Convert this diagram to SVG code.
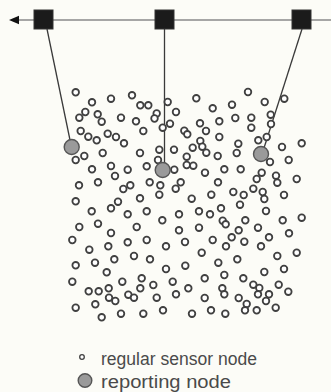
<svg xmlns="http://www.w3.org/2000/svg" width="331" height="392" viewBox="0 0 331 392">
<style>
.bg{fill:#fcfcf7}
.track{stroke:#8a8a8a;stroke-width:1.5;fill:none}
.sink{fill:#1b1b1b;stroke:#333;stroke-width:1}
.link{stroke:#3a3a3a;stroke-width:1.3;fill:none}
.rep{fill:#9a9a9a;stroke:#555;stroke-width:1.4}
.s{fill:#fff;stroke:#404040;stroke-width:1.8}
.lbl{font-family:"Liberation Sans",Arial,sans-serif;font-size:17.5px;fill:#4a4a4a}
</style>
<rect class="bg" width="331" height="392"/>
<g id="connectors">
<line class="track" x1="16" y1="20" x2="331" y2="20"/>
<polygon points="9,20 19,15.8 19,24.2" fill="#111"/>
<line class="link" x1="47" y1="29" x2="70" y2="140"/>
<line class="link" x1="164.5" y1="29" x2="164.5" y2="163"/>
<line class="link" x1="302" y1="29" x2="264" y2="148"/>
</g>
<g id="sink1"><rect class="sink" x="34" y="10" width="19" height="19"/></g>
<g id="sink2"><rect class="sink" x="155" y="10" width="19" height="19"/></g>
<g id="sink3"><rect class="sink" x="292" y="10" width="19" height="19"/></g>
<g id="sensors">
<circle class="s" r="3.3" cx="75.7" cy="92.3"/><circle class="s" r="3.3" cx="92" cy="102.3"/><circle class="s" r="3.3" cx="111" cy="98.7"/><circle class="s" r="3.3" cx="132" cy="95.3"/><circle class="s" r="3.3" cx="140.3" cy="105.3"/><circle class="s" r="3.3" cx="148.3" cy="105.3"/><circle class="s" r="3.3" cx="167.7" cy="102"/><circle class="s" r="3.3" cx="176" cy="112"/><circle class="s" r="3.3" cx="85.3" cy="112"/><circle class="s" r="3.3" cx="79.3" cy="117.7"/><circle class="s" r="3.3" cx="97.7" cy="114.3"/><circle class="s" r="3.3" cx="101.7" cy="121.7"/><circle class="s" r="3.3" cx="121" cy="117.7"/><circle class="s" r="3.3" cx="136" cy="121.3"/><circle class="s" r="3.3" cx="156.7" cy="113.5"/><circle class="s" r="3.3" cx="154.5" cy="118.5"/><circle class="s" r="3.3" cx="170" cy="123.7"/><circle class="s" r="3.3" cx="162.7" cy="127.7"/><circle class="s" r="3.3" cx="80.7" cy="131"/><circle class="s" r="3.3" cx="88.3" cy="136.7"/><circle class="s" r="3.3" cx="96.7" cy="140.3"/><circle class="s" r="3.3" cx="107.7" cy="133.7"/><circle class="s" r="3.3" cx="116" cy="137"/><circle class="s" r="3.3" cx="124" cy="143.3"/><circle class="s" r="3.3" cx="143.3" cy="131"/><circle class="s" r="3.3" cx="184.3" cy="130.7"/><circle class="s" r="3.3" cx="187.3" cy="134.3"/><circle class="s" r="3.3" cx="192.7" cy="147.7"/><circle class="s" r="3.3" cx="102.7" cy="153"/><circle class="s" r="3.3" cx="140" cy="153"/><circle class="s" r="3.3" cx="159.3" cy="149.7"/><circle class="s" r="3.3" cx="174" cy="149.7"/><circle class="s" r="3.3" cx="186.7" cy="156.7"/><circle class="s" r="3.3" cx="84.3" cy="156"/><circle class="s" r="3.3" cx="75.7" cy="160"/><circle class="s" r="3.3" cx="158" cy="160"/>
<circle class="s" r="3.3" cx="196.3" cy="98.3"/><circle class="s" r="3.3" cx="248" cy="92"/><circle class="s" r="3.3" cx="264.7" cy="102"/><circle class="s" r="3.3" cx="284.3" cy="98.7"/><circle class="s" r="3.3" cx="212.7" cy="108.3"/><circle class="s" r="3.3" cx="232" cy="104.7"/><circle class="s" r="3.3" cx="270.7" cy="114.7"/><circle class="s" r="3.3" cx="200" cy="123.3"/><circle class="s" r="3.3" cx="219.3" cy="121.3"/><circle class="s" r="3.3" cx="235.3" cy="118"/><circle class="s" r="3.3" cx="251.3" cy="117.7"/><circle class="s" r="3.3" cx="271" cy="124"/><circle class="s" r="3.3" cx="251.3" cy="127.7"/><circle class="s" r="3.3" cx="206" cy="131"/><circle class="s" r="3.3" cx="219.3" cy="137"/><circle class="s" r="3.3" cx="200.3" cy="141"/><circle class="s" r="3.3" cx="202.3" cy="146.7"/><circle class="s" r="3.3" cx="206.3" cy="152.7"/><circle class="s" r="3.3" cx="217.7" cy="156"/><circle class="s" r="3.3" cx="238.3" cy="143.7"/><circle class="s" r="3.3" cx="236.7" cy="153"/><circle class="s" r="3.3" cx="258.3" cy="140.3"/><circle class="s" r="3.3" cx="266.7" cy="137"/><circle class="s" r="3.3" cx="282" cy="147"/><circle class="s" r="3.3" cx="301.7" cy="143.3"/><circle class="s" r="3.3" cx="288.7" cy="160"/><circle class="s" r="3.3" cx="270" cy="162"/>
<circle class="s" r="3.3" cx="92" cy="169.3"/><circle class="s" r="3.3" cx="111" cy="166"/><circle class="s" r="3.3" cx="115" cy="176"/><circle class="s" r="3.3" cx="127.7" cy="169.7"/><circle class="s" r="3.3" cx="146.7" cy="166.3"/><circle class="s" r="3.3" cx="174.3" cy="169.7"/><circle class="s" r="3.3" cx="186.7" cy="165"/><circle class="s" r="3.3" cx="79" cy="185.3"/><circle class="s" r="3.3" cx="98" cy="182.3"/><circle class="s" r="3.3" cx="123.3" cy="189"/><circle class="s" r="3.3" cx="130.3" cy="185.3"/><circle class="s" r="3.3" cx="149.7" cy="182.3"/><circle class="s" r="3.3" cx="160.3" cy="185.3"/><circle class="s" r="3.3" cx="175.7" cy="188.7"/><circle class="s" r="3.3" cx="180.7" cy="182.3"/><circle class="s" r="3.3" cx="159.3" cy="194.7"/><circle class="s" r="3.3" cx="75.7" cy="201.3"/><circle class="s" r="3.3" cx="118" cy="201.7"/><circle class="s" r="3.3" cx="140" cy="198.3"/><circle class="s" r="3.3" cx="191.7" cy="198.7"/><circle class="s" r="3.3" cx="91.7" cy="211.3"/><circle class="s" r="3.3" cx="111" cy="208.3"/><circle class="s" r="3.3" cx="127.7" cy="214.3"/><circle class="s" r="3.3" cx="146.7" cy="211.3"/><circle class="s" r="3.3" cx="179" cy="214.3"/><circle class="s" r="3.3" cx="162.3" cy="220.3"/><circle class="s" r="3.3" cx="79.3" cy="227"/><circle class="s" r="3.3" cx="98" cy="223.7"/><circle class="s" r="3.3" cx="136.7" cy="227"/><circle class="s" r="3.3" cx="111" cy="233"/><circle class="s" r="3.3" cx="179" cy="230.3"/><circle class="s" r="3.3" cx="72.3" cy="240"/><circle class="s" r="3.3" cx="127.7" cy="242.3"/><circle class="s" r="3.3" cx="146.7" cy="240"/><circle class="s" r="3.3" cx="185" cy="242"/>
<circle class="s" r="3.3" cx="193.3" cy="165.7"/><circle class="s" r="3.3" cx="205" cy="172.7"/><circle class="s" r="3.3" cx="224.3" cy="169.3"/><circle class="s" r="3.3" cx="240.7" cy="169.3"/><circle class="s" r="3.3" cx="261.7" cy="172.7"/><circle class="s" r="3.3" cx="276" cy="175.7"/><circle class="s" r="3.3" cx="277.3" cy="182.7"/><circle class="s" r="3.3" cx="296.7" cy="179"/><circle class="s" r="3.3" cx="218" cy="182.3"/><circle class="s" r="3.3" cx="256.7" cy="179"/><circle class="s" r="3.3" cx="253.3" cy="188.7"/><circle class="s" r="3.3" cx="262.7" cy="192"/><circle class="s" r="3.3" cx="264.3" cy="199"/><circle class="s" r="3.3" cx="284" cy="195"/><circle class="s" r="3.3" cx="233.3" cy="192"/><circle class="s" r="3.3" cx="243.7" cy="195"/><circle class="s" r="3.3" cx="211.3" cy="194.7"/><circle class="s" r="3.3" cx="240" cy="204.7"/><circle class="s" r="3.3" cx="221" cy="208.3"/><circle class="s" r="3.3" cx="199" cy="211.3"/><circle class="s" r="3.3" cx="210" cy="214.3"/><circle class="s" r="3.3" cx="266" cy="211"/><circle class="s" r="3.3" cx="222.7" cy="220.7"/><circle class="s" r="3.3" cx="225.7" cy="224.3"/><circle class="s" r="3.3" cx="245.3" cy="220.3"/><circle class="s" r="3.3" cx="282.7" cy="220.3"/><circle class="s" r="3.3" cx="301.7" cy="217.7"/><circle class="s" r="3.3" cx="199" cy="227.7"/><circle class="s" r="3.3" cx="238.7" cy="230.3"/><circle class="s" r="3.3" cx="258" cy="227.7"/><circle class="s" r="3.3" cx="289" cy="233.3"/><circle class="s" r="3.3" cx="231.7" cy="237.3"/><circle class="s" r="3.3" cx="269" cy="237.3"/><circle class="s" r="3.3" cx="212.7" cy="240"/><circle class="s" r="3.3" cx="244.3" cy="241.7"/>
<circle class="s" r="3.3" cx="89.3" cy="249.7"/><circle class="s" r="3.3" cx="108.3" cy="246.3"/><circle class="s" r="3.3" cx="166" cy="246.3"/><circle class="s" r="3.3" cx="75.7" cy="265.3"/><circle class="s" r="3.3" cx="95" cy="262.7"/><circle class="s" r="3.3" cx="114.3" cy="259.3"/><circle class="s" r="3.3" cx="134" cy="256"/><circle class="s" r="3.3" cx="150" cy="259.3"/><circle class="s" r="3.3" cx="185.3" cy="265.7"/><circle class="s" r="3.3" cx="106.7" cy="272.3"/><circle class="s" r="3.3" cx="166" cy="269"/><circle class="s" r="3.3" cx="72.3" cy="281.7"/><circle class="s" r="3.3" cx="122.3" cy="281.7"/><circle class="s" r="3.3" cx="141.7" cy="278.3"/><circle class="s" r="3.3" cx="153.3" cy="285"/><circle class="s" r="3.3" cx="172.7" cy="281.7"/><circle class="s" r="3.3" cx="88.7" cy="291.3"/><circle class="s" r="3.3" cx="98.7" cy="291.3"/><circle class="s" r="3.3" cx="108.7" cy="288.3"/><circle class="s" r="3.3" cx="140.3" cy="288.3"/><circle class="s" r="3.3" cx="188.3" cy="288.3"/><circle class="s" r="3.3" cx="109" cy="297.7"/><circle class="s" r="3.3" cx="115.3" cy="301"/><circle class="s" r="3.3" cx="128.3" cy="294.7"/><circle class="s" r="3.3" cx="134" cy="297.7"/><circle class="s" r="3.3" cx="156.7" cy="297.7"/><circle class="s" r="3.3" cx="176" cy="294.3"/><circle class="s" r="3.3" cx="75.7" cy="307.7"/><circle class="s" r="3.3" cx="95.3" cy="304.3"/><circle class="s" r="3.3" cx="101.7" cy="317.3"/><circle class="s" r="3.3" cx="121" cy="313.7"/><circle class="s" r="3.3" cx="143.3" cy="313.7"/><circle class="s" r="3.3" cx="163" cy="310.3"/><circle class="s" r="3.3" cx="192" cy="313.7"/>
<circle class="s" r="3.3" cx="226" cy="246.3"/><circle class="s" r="3.3" cx="261" cy="246.3"/><circle class="s" r="3.3" cx="201.7" cy="252.7"/><circle class="s" r="3.3" cx="277.3" cy="256"/><circle class="s" r="3.3" cx="296.7" cy="252.7"/><circle class="s" r="3.3" cx="218.3" cy="262.7"/><circle class="s" r="3.3" cx="237.3" cy="259.3"/><circle class="s" r="3.3" cx="264.3" cy="272"/><circle class="s" r="3.3" cx="284" cy="269"/><circle class="s" r="3.3" cx="204.7" cy="278.3"/><circle class="s" r="3.3" cx="224.3" cy="275"/><circle class="s" r="3.3" cx="243.3" cy="278.3"/><circle class="s" r="3.3" cx="253.3" cy="284.7"/><circle class="s" r="3.3" cx="259.3" cy="288"/><circle class="s" r="3.3" cx="278.7" cy="284.7"/><circle class="s" r="3.3" cx="288.3" cy="291.7"/><circle class="s" r="3.3" cx="222.3" cy="288.3"/><circle class="s" r="3.3" cx="224.3" cy="294.3"/><circle class="s" r="3.3" cx="238.7" cy="298"/><circle class="s" r="3.3" cx="258" cy="294.3"/><circle class="s" r="3.3" cx="269" cy="294.3"/><circle class="s" r="3.3" cx="266" cy="301"/><circle class="s" r="3.3" cx="246.7" cy="304"/><circle class="s" r="3.3" cx="204.7" cy="298"/><circle class="s" r="3.3" cx="275.7" cy="307.7"/><circle class="s" r="3.3" cx="211" cy="310.3"/><circle class="s" r="3.3" cx="225.3" cy="313.7"/><circle class="s" r="3.3" cx="245" cy="310.3"/><circle class="s" r="3.3" cx="256.7" cy="310.3"/>
</g>
<g id="report1"><circle class="rep" cx="71.7" cy="147" r="7.5"/></g>
<g id="report2"><circle class="rep" cx="162.7" cy="170" r="7.5"/></g>
<g id="report3"><circle class="rep" cx="261" cy="154" r="7.5"/></g>
<g id="legend">
<circle class="s" cx="82" cy="357" r="2.3" style="stroke-width:1.3"/>
<text class="lbl" x="101" y="364.5" textLength="156" lengthAdjust="spacingAndGlyphs">regular sensor node</text>
<circle class="rep" cx="85" cy="380.5" r="6.8"/>
<text class="lbl" x="101" y="387.5" textLength="130" lengthAdjust="spacingAndGlyphs">reporting node</text>
</g>
</svg>
